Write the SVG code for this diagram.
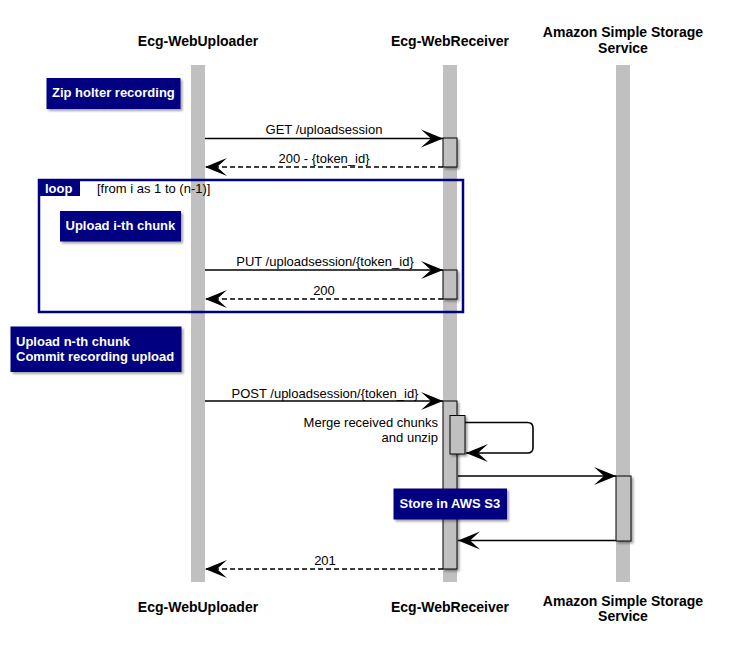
<svg xmlns="http://www.w3.org/2000/svg" width="730" height="656" viewBox="0 0 730 656">
<style>
.head{font-family:"Liberation Sans",Arial,sans-serif;font-size:14px;font-weight:bold;fill:#000;text-anchor:middle}
.msg{font-family:"Liberation Sans",Arial,sans-serif;font-size:13px;fill:#000}
.mid{text-anchor:middle}
.note{fill:#000080;filter:url(#sh)}
.ntxt{font-family:"Liberation Sans",Arial,sans-serif;font-size:13px;font-weight:bold;fill:#fff}
.life{fill:#C0C0C0}
.act{fill:#C0C0C0;stroke:#000;stroke-width:1;filter:url(#sh)}
.arr{stroke:#000;stroke-width:1.6;fill:none;marker-end:url(#ah)}
.ret{stroke:#000;stroke-width:1.6;fill:none;stroke-dasharray:5,3;marker-end:url(#ah)}
</style>
<defs>
<filter id="sh" x="-20%" y="-20%" width="150%" height="150%">
<feDropShadow dx="2" dy="2" stdDeviation="1" flood-color="#000" flood-opacity="0.35"/>
</filter>
<marker id="ah" viewBox="-23 -10 24 20" refX="0" refY="0" markerWidth="24" markerHeight="20" markerUnits="userSpaceOnUse" orient="auto">
<path d="M0,0 L-22,-9 L-12,0 L-22,9 Z" fill="#000"/>
</marker>
</defs>
<rect width="730" height="656" fill="#fff"/>

<g id="p-uploader">
<rect class="life" x="191" y="65" width="14" height="517"/>
<text class="head" x="198" y="46">Ecg-WebUploader</text>
<text class="head" x="198" y="612">Ecg-WebUploader</text>
</g>
<g id="p-receiver">
<rect class="life" x="443" y="65" width="14" height="517"/>
<text class="head" x="450" y="46">Ecg-WebReceiver</text>
<text class="head" x="450" y="612">Ecg-WebReceiver</text>
</g>
<g id="p-s3">
<rect class="life" x="616" y="65" width="14" height="517"/>
<text class="head" x="623" y="37">Amazon Simple Storage</text>
<text class="head" x="623" y="53">Service</text>
<text class="head" x="623" y="606">Amazon Simple Storage</text>
<text class="head" x="623" y="621">Service</text>
</g>

<g id="activations">
<rect class="act" x="443" y="138" width="14" height="29"/>
<rect class="act" x="443" y="270" width="14" height="29"/>
<rect class="act" x="443" y="401" width="14" height="168"/>
<rect class="act" x="450" y="415.5" width="15" height="38.5"/>
<rect class="act" x="616" y="476" width="15" height="65"/>
</g>

<g id="loop">
<rect x="39" y="180" width="424" height="132" fill="none" stroke="#000080" stroke-width="2.5"/>
<rect x="39" y="180" width="41" height="16" fill="#000080"/>
<text class="ntxt" x="45" y="193">loop</text>
<text class="msg" x="97" y="193">[from i as 1 to (n-1)]</text>
</g>

<g id="note-zip">
<rect class="note" x="46.5" y="78" width="134" height="31"/>
<text class="ntxt" x="52" y="97">Zip holter recording</text>
</g>
<g id="note-chunk">
<rect class="note" x="60" y="211" width="121" height="30.5"/>
<text class="ntxt" x="65.5" y="230">Upload i-th chunk</text>
</g>
<g id="note-commit">
<rect class="note" x="10.5" y="326.5" width="171" height="45.5"/>
<text class="ntxt" x="16" y="346">Upload n-th chunk</text>
<text class="ntxt" x="16" y="361">Commit recording upload</text>
</g>

<g id="connectors">
<line class="arr" x1="205" y1="138.5" x2="443" y2="138.5"/>
<text class="msg mid" x="324" y="134">GET /uploadsession</text>
<line class="ret" x1="443" y1="167" x2="205" y2="167"/>
<text class="msg mid" x="324" y="163">200 - {token_id}</text>
<line class="arr" x1="205" y1="270" x2="443" y2="270"/>
<text class="msg mid" x="325" y="266">PUT /uploadsession/{token_id}</text>
<line class="ret" x1="443" y1="299" x2="205" y2="299"/>
<text class="msg mid" x="324" y="295">200</text>
<line class="arr" x1="205" y1="401" x2="443" y2="401"/>
<text class="msg mid" x="325" y="398">POST /uploadsession/{token_id}</text>
<path class="arr" d="M465,422.5 H527.5 Q533,422.5 533,428 V447.5 Q533,453 527.5,453 H466"/>
<text class="msg" x="438" y="427" text-anchor="end">Merge received chunks</text>
<text class="msg" x="438" y="442" text-anchor="end">and unzip</text>
<line class="arr" x1="458" y1="476" x2="616" y2="476"/>
<line class="arr" x1="616" y1="540.5" x2="458" y2="540.5"/>
<line class="ret" x1="443" y1="569" x2="205" y2="569"/>
<text class="msg mid" x="325" y="565">201</text>
</g>

<g id="note-s3">
<rect class="note" x="393.5" y="488.5" width="113.5" height="31"/>
<text class="ntxt" x="399.5" y="508">Store in AWS S3</text>
</g>
</svg>
